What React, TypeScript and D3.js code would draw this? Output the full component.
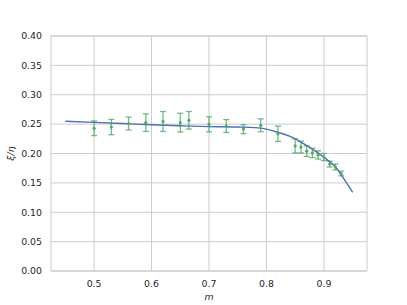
import { useEffect, useRef } from "react"
import * as d3 from "d3"

// measured points with error bars
const mValues = [0.5, 0.53, 0.56, 0.59, 0.62, 0.65, 0.665, 0.7, 0.73, 0.76, 0.79, 0.82, 0.85, 0.86, 0.87, 0.88, 0.89, 0.9, 0.91, 0.92, 0.93]
const ratioValues = [0.243, 0.245, 0.251, 0.2525, 0.2545, 0.2525, 0.2565, 0.2497, 0.2468, 0.2415, 0.248, 0.2335, 0.213, 0.211, 0.204, 0.201, 0.1975, 0.194, 0.182, 0.177, 0.166]
const ratioErrors = [0.0125, 0.013, 0.011, 0.015, 0.017, 0.016, 0.015, 0.0128, 0.011, 0.0075, 0.011, 0.013, 0.012, 0.01, 0.009, 0.008, 0.007, 0.006, 0.005, 0.005, 0.004]

// theory curve
const curveM = [0.45, 0.5, 0.55, 0.6, 0.65, 0.7, 0.75, 0.78, 0.8, 0.82, 0.84, 0.86, 0.88, 0.9, 0.92, 0.94, 0.95]
const curveRatio = [0.2548, 0.253, 0.251, 0.249, 0.2472, 0.2458, 0.245, 0.244, 0.2415, 0.236, 0.2295, 0.2195, 0.2075, 0.1935, 0.177, 0.149, 0.134]

const xTicks = [0.5, 0.6, 0.7, 0.8, 0.9]
const yTicks = [0, 0.05, 0.1, 0.15, 0.2, 0.25, 0.3, 0.35, 0.4]

export default function App() {
  const svgRef = useRef<SVGSVGElement>(null)

  useEffect(() => {
    if (!svgRef.current) return
    const svg = d3.select(svgRef.current)
    svg.selectAll("*").remove()

    const width = 407
    const height = 305
    const margin = { top: 36, right: 40, bottom: 34, left: 51 }
    const innerWidth = width - margin.left - margin.right
    const innerHeight = height - margin.top - margin.bottom

    const x = d3.scaleLinear().domain([0.425, 0.975]).range([0, innerWidth])
    const y = d3.scaleLinear().domain([0, 0.4]).range([innerHeight, 0])

    const g = svg.append("g").attr("transform", `translate(${margin.left},${margin.top})`)
    const font = "DejaVu Sans, sans-serif"
    const grid = "#cccccc"
    const text = "#262626"
    const fs = "9.4px"

    // grid
    g.selectAll(".gx")
      .data(xTicks)
      .enter()
      .append("line")
      .attr("x1", (d) => x(d))
      .attr("x2", (d) => x(d))
      .attr("y1", 0)
      .attr("y2", innerHeight)
      .attr("stroke", grid)
      .attr("stroke-width", 1)

    g.selectAll(".gy")
      .data(yTicks)
      .enter()
      .append("line")
      .attr("x1", 0)
      .attr("x2", innerWidth)
      .attr("y1", (d) => y(d))
      .attr("y2", (d) => y(d))
      .attr("stroke", grid)
      .attr("stroke-width", 1)

    // frame
    g.append("rect")
      .attr("width", innerWidth)
      .attr("height", innerHeight)
      .attr("fill", "none")
      .attr("stroke", grid)
      .attr("stroke-width", 1)

    // tick labels
    g.selectAll(".tx")
      .data(xTicks)
      .enter()
      .append("text")
      .attr("x", (d) => x(d))
      .attr("y", innerHeight + 16)
      .attr("text-anchor", "middle")
      .style("font-family", font)
      .style("font-size", fs)
      .attr("fill", text)
      .text((d) => d3.format(".1f")(d))

    g.selectAll(".ty")
      .data(yTicks)
      .enter()
      .append("text")
      .attr("x", -9)
      .attr("y", (d) => y(d))
      .attr("dy", "0.35em")
      .attr("text-anchor", "end")
      .style("font-family", font)
      .style("font-size", fs)
      .attr("fill", text)
      .text((d) => d3.format(".2f")(d))

    // axis labels
    g.append("text")
      .attr("x", innerWidth / 2)
      .attr("y", innerHeight + 29)
      .attr("text-anchor", "middle")
      .style("font-family", font)
      .style("font-size", fs)
      .style("font-style", "italic")
      .attr("fill", text)
      .text("m")

    g.append("text")
      .attr("transform", `translate(${-37},${innerHeight / 2}) rotate(-90)`)
      .attr("text-anchor", "middle")
      .style("font-family", font)
      .style("font-size", fs)
      .style("font-style", "italic")
      .attr("fill", text)
      .text("ξ/η")

    // error bars
    const green = "#55a868"
    const eb = g.append("g").attr("stroke", green).attr("stroke-opacity", 0.8).attr("stroke-width", 1.3)
    mValues.forEach((m, i) => {
      const cx = x(m)
      const top = y(ratioValues[i] + ratioErrors[i])
      const bot = y(ratioValues[i] - ratioErrors[i])
      eb.append("line").attr("x1", cx).attr("x2", cx).attr("y1", top).attr("y2", bot)
      eb.append("line").attr("x1", cx - 3).attr("x2", cx + 3).attr("y1", top).attr("y2", top)
      eb.append("line").attr("x1", cx - 3).attr("x2", cx + 3).attr("y1", bot).attr("y2", bot)
    })

    // curve
    const line = d3
      .line<number>()
      .x((d) => x(d))
      .y((d, i) => y(curveRatio[i]))
      .curve(d3.curveMonotoneX)

    g.append("path")
      .datum(curveM)
      .attr("fill", "none")
      .attr("stroke", "#4c72b0")
      .attr("stroke-width", 1.4)
      .attr("d", line)

    // points
    g.selectAll(".dot")
      .data(mValues)
      .enter()
      .append("circle")
      .attr("cx", (d) => x(d))
      .attr("cy", (d, i) => y(ratioValues[i]))
      .attr("r", 1.6)
      .attr("fill", green)
  }, [])

  return (
    <div style={{ position: "absolute", left: 0, top: 0 }}>
      <svg ref={svgRef} width={407} height={305} style={{ display: "block", background: "#fff" }}></svg>
    </div>
  )
}
